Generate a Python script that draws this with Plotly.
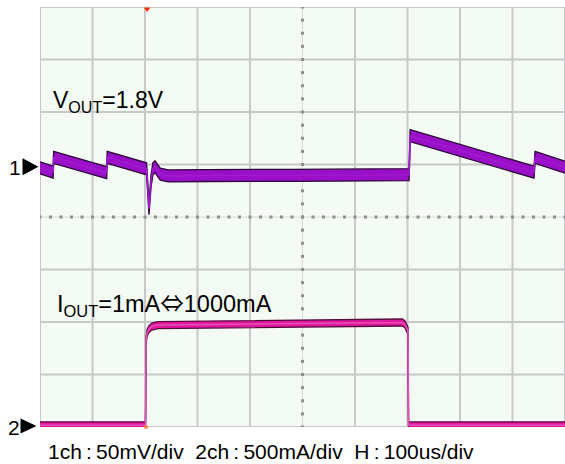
import numpy as np
import plotly.graph_objects as go

# ---------------- data ----------------
# time in microseconds (H: 100us/div, 10 div)
t_ch1 = [0, 25, 26, 127, 128, 200, 203, 207.6, 211.4, 215, 219, 229, 244,
         320, 400, 480, 552, 620, 703, 705, 941, 943, 1000]
# ch1 VOUT ripple, mV (1ch: 50mV/div), relative to the ch1 marker
v_ch1_mV = [-1.0, -5.2, 9.0, -5.7, 9.0, -1.0, -2.0, -40.0, -14.0, -2.0, 0.0, -7.0, -8.8,
            -8.4, -8.6, -8.2, -8.1, -7.8, -7.6, 29.5, -5.2, 9.0, -0.5]

t_ch2 = [0, 201, 202, 204, 207.6, 213, 225, 400, 590, 690, 695, 699, 701, 702, 1000]
# ch2 IOUT, mA (2ch: 500mA/div)
i_ch2_mA = [1, 1, 813, 880, 918, 942, 956, 963, 975, 980, 963, 928, 900, 1, 1]

label_vout = "V<sub>OUT</sub>=1.8V"
label_iout = "I<sub>OUT</sub>=1mA<span style='font-family:Noto Sans CJK JP'>⇔</span>1000mA"
label_scale = ("1ch\u2009:\u200950mV/div\u00a0\u00a02ch\u2009:\u2009500mA/div"
               "\u00a0\u00a0H\u2009:\u2009100us/div")

# ---------------- scope geometry / style ----------------
US_PER_DIV = 100.0
CH1_MV_PER_DIV = 50.0
CH2_MA_PER_DIV = 500.0
CH1_REF = 4.958   # div from bottom
CH2_REF = 0.03

W, H = 565, 464
L, R, T, B = 40, 0, 7, 37
PW, PH = W - L - R, H - T - B
PX_PER_DIV = PW / 10.0


def px_to_paper(px, py):
    return (px - L) / PW, (H - B - py) / PH


y1 = CH1_REF + np.array(v_ch1_mV) / CH1_MV_PER_DIV
y2 = CH2_REF + np.array(i_ch2_mA) / CH2_MA_PER_DIV

hw1 = 6.0 / PX_PER_DIV   # half thickness of the noisy beam
hw2 = 3.5 / PX_PER_DIV

fig = go.Figure()


def add_beam(t, y, hw, fill, edge, core):
    fig.add_trace(go.Scatter(x=t, y=y + hw, mode="lines",
                             line=dict(color=edge, width=1.3), hoverinfo="skip",
                             showlegend=False))
    fig.add_trace(go.Scatter(x=t, y=y - hw, mode="lines", fill="tonexty",
                             fillcolor=fill, line=dict(color=edge, width=1.3),
                             hoverinfo="skip", showlegend=False))
    fig.add_trace(go.Scatter(x=t, y=y, mode="lines",
                             line=dict(color=core, width=1.6), hoverinfo="skip",
                             showlegend=False))


# centre-line graticule ticks
xs_ticks = np.arange(0, 1000.001, US_PER_DIV / 5)
ys_ticks = np.arange(0, 8.001, 0.25)
fig.add_trace(go.Scatter(x=xs_ticks, y=[4] * len(xs_ticks), mode="markers",
                         marker=dict(size=3, color="#8f8f8f", symbol="square"),
                         hoverinfo="skip", showlegend=False))
fig.add_trace(go.Scatter(x=[500] * len(ys_ticks), y=ys_ticks, mode="markers",
                         marker=dict(size=3, color="#8f8f8f", symbol="square"),
                         hoverinfo="skip", showlegend=False))

add_beam(t_ch1, y1, hw1, "#9a0fc8", "#2c0838", "#a01ad0")
add_beam(t_ch2, y2, hw2, "#e4169f", "#5a0c3e", "#e050b8")

# trigger markers
fig.add_trace(go.Scatter(x=[204], y=[7.96], mode="markers",
                         marker=dict(size=6, color="#ff3010", symbol="triangle-down"),
                         cliponaxis=False, hoverinfo="skip", showlegend=False))
fig.add_trace(go.Scatter(x=[202], y=[0.0], mode="markers",
                         marker=dict(size=4, color="#ff8040", symbol="circle"),
                         cliponaxis=False, hoverinfo="skip", showlegend=False))

shapes = []
for i in range(11):
    if i == 5:
        continue
    shapes.append(dict(type="line", xref="x", yref="y", x0=i * US_PER_DIV, x1=i * US_PER_DIV,
                       y0=0, y1=8, line=dict(color="#c8c8c8", width=2), layer="below"))
for j in range(9):
    if j == 4:
        continue
    shapes.append(dict(type="line", xref="x", yref="y", x0=0, x1=1000, y0=j, y1=j,
                       line=dict(color="#c8c8c8", width=2), layer="below"))
shapes.append(dict(type="line", xref="x", yref="y", x0=0, x1=1000, y0=4, y1=4,
                   line=dict(color="#dadada", width=1), layer="below"))
shapes.append(dict(type="line", xref="x", yref="y", x0=500, x1=500, y0=0, y1=8,
                   line=dict(color="#dadada", width=1), layer="below"))


def tri(tip_x, tip_y, w, h):
    ax, ay = px_to_paper(tip_x - w, tip_y - h / 2)
    bx, by = px_to_paper(tip_x - w, tip_y + h / 2)
    cx, cy = px_to_paper(tip_x, tip_y)
    return dict(type="path", xref="paper", yref="paper",
                path=f"M {ax} {ay} L {bx} {by} L {cx} {cy} Z",
                fillcolor="black", line=dict(color="black", width=0))


shapes.append(tri(38.5, 166.7, 16, 17))
shapes.append(tri(36.5, 426.0, 16, 15))

font_main = "Liberation Sans, Arial, DejaVu Sans, sans-serif"
annotations = []
x, y = px_to_paper(15, 167)
annotations.append(dict(text="1", x=x, y=y, xref="paper", yref="paper", showarrow=False,
                        xanchor="center", yanchor="middle",
                        font=dict(size=21, color="black", family=font_main)))
x, y = px_to_paper(14, 427)
annotations.append(dict(text="2", x=x, y=y, xref="paper", yref="paper", showarrow=False,
                        xanchor="center", yanchor="middle",
                        font=dict(size=21, color="black", family=font_main)))
x, y = px_to_paper(51, 102)
annotations.append(dict(text=label_vout, x=x, y=y, xref="paper", yref="paper",
                        showarrow=False, xanchor="left", yanchor="middle",
                        font=dict(size=23, color="black", family=font_main)))
x, y = px_to_paper(55, 302)
annotations.append(dict(text=label_iout, x=x, y=y, xref="paper", yref="paper",
                        showarrow=False, xanchor="left", yanchor="middle",
                        font=dict(size=23.5, color="black", family=font_main)))
x, y = px_to_paper(46, 451)
annotations.append(dict(text=label_scale, x=x, y=y, xref="paper", yref="paper",
                        showarrow=False, xanchor="left", yanchor="middle",
                        font=dict(size=21, color="black", family=font_main)))

fig.update_layout(
    width=W, height=H,
    margin=dict(l=L, r=R, t=T, b=B, pad=0),
    paper_bgcolor="white", plot_bgcolor="#f4faf4",
    xaxis=dict(range=[0, 1000], showgrid=False, zeroline=False, showticklabels=False,
               ticks="", showline=False, fixedrange=True),
    yaxis=dict(range=[0, 8], showgrid=False, zeroline=False, showticklabels=False,
               ticks="", showline=False, fixedrange=True),
    shapes=shapes, annotations=annotations, showlegend=False,
)

fig.write_html("out.html", config={"displayModeBar": False},
               post_script="document.body.style.margin='0';document.body.style.overflow='hidden';")
